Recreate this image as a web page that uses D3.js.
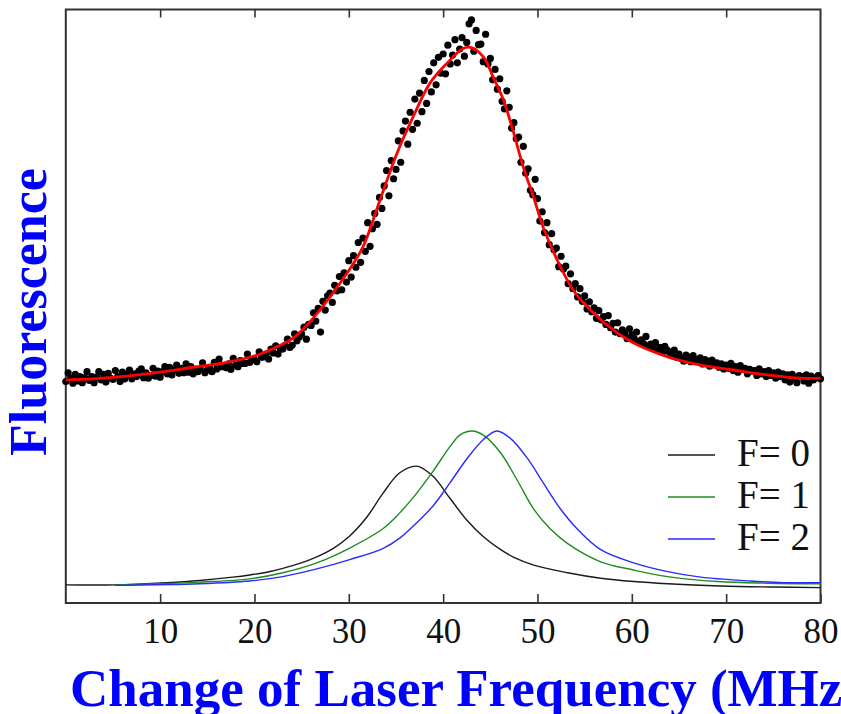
<!DOCTYPE html>
<html>
<head>
<meta charset="utf-8">
<script src="https://cdn.jsdelivr.net/npm/d3@7"></script>
<style>
  body { margin: 0; background: #fff; }
  svg { display: block; }
</style>
</head>
<body>
<svg id="chart" width="841" height="714"></svg>
<script>
// measured fluorescence, scan starts at 0 MHz, one point every 0.25 MHz
const scanStart = 0;
const scanStep = 0.25;
const scanCounts = [
  37.0, 38.6, 37.6, 36.7, 38.3, 37.1, 37.9, 36.8, 37.7, 38.8, 37.2, 37.9,
  36.8, 37.8, 38.8, 37.3, 38.3, 36.9, 38.5, 37.6, 37.4, 39.0, 37.9, 37.0,
  38.7, 37.5, 38.3, 39.1, 37.5, 38.4, 37.9, 38.9, 39.3, 37.7, 38.6, 37.6,
  38.1, 39.4, 38.0, 38.9, 37.8, 38.8, 39.7, 38.4, 39.6, 38.2, 39.1, 40.0,
  38.5, 39.4, 38.6, 40.2, 38.7, 39.7, 38.4, 39.2, 38.8, 39.3, 40.4, 38.6,
  39.1, 39.6, 38.8, 40.5, 39.3, 41.1, 39.7, 39.9, 39.5, 40.2, 39.2, 41.2,
  40.0, 39.7, 40.8, 40.3, 40.3, 42.0, 40.5, 41.0, 41.0, 40.6, 42.4, 41.4,
  41.5, 42.0, 41.1, 42.9, 42.2, 43.5, 42.0, 42.9, 42.9, 43.6, 44.7, 43.2,
  43.6, 45.7, 44.4, 45.1, 45.7, 46.9, 44.7, 47.4, 47.2, 49.5, 48.0, 50.3,
  46.0, 51.6, 50.0, 52.6, 53.1, 51.4, 54.5, 53.5, 56.1, 53.7, 56.8, 55.1,
  59.0, 56.0, 59.9, 57.8, 62.3, 58.7, 63.1, 60.7, 65.9, 61.6, 64.8, 67.6,
  65.6, 70.5, 68.5, 72.6, 75.4, 70.8, 77.2, 73.9, 75.6, 80.8, 76.9, 82.6,
  84.4, 80.2, 86.0, 82.9, 88.4, 84.0, 89.5, 86.1, 91.8, 87.6, 93.4, 89.7,
  95.0, 91.0, 96.0, 93.1, 96.6, 93.0, 98.2, 94.8, 96.4, 99.2, 95.0, 97.5,
  99.6, 96.2, 98.7, 102.1, 102.8, 97.1, 100.9, 98.3, 98.4, 95.2, 100.2, 94.8,
  95.8, 91.9, 93.8, 90.2, 92.1, 88.0, 86.6, 89.9, 86.9, 83.1, 84.1, 81.2,
  81.5, 76.9, 79.8, 74.9, 75.7, 71.8, 71.0, 73.8, 70.3, 66.2, 67.9, 64.1,
  65.9, 61.9, 63.9, 61.0, 61.3, 57.9, 59.8, 57.5, 58.0, 54.8, 56.6, 53.9,
  54.8, 52.4, 53.9, 51.6, 52.6, 50.2, 51.5, 49.7, 50.4, 48.5, 49.9, 48.2,
  48.8, 47.4, 49.0, 46.8, 47.6, 46.0, 47.7, 45.7, 46.4, 45.7, 44.8, 46.6,
  45.5, 44.8, 46.0, 44.2, 44.6, 43.9, 45.2, 43.5, 43.8, 43.2, 44.1, 42.7,
  43.2, 42.3, 43.4, 42.7, 42.3, 41.7, 42.7, 41.4, 42.0, 41.2, 40.7, 41.8,
  41.4, 40.6, 41.7, 40.9, 40.9, 41.3, 40.2, 41.0, 40.7, 39.8, 40.9, 40.2,
  40.4, 39.6, 40.2, 39.3, 40.0, 39.4, 40.3, 39.0, 39.7, 38.7, 39.9, 39.2,
  39.4, 38.4, 39.2, 38.9, 39.0, 38.1, 39.3, 38.4, 38.8, 37.9, 39.0, 38.1,
  38.6, 37.6, 38.7, 37.9, 38.4, 37.3, 38.2, 36.9, 38.3, 37.5, 36.8, 38.1,
  37.9, 37.1, 38.2, 36.7, 38.0, 37.3, 37.7, 38.1, 37.5
];

// fitted line [MHz, fluorescence]
const fitCurve = [
  [0, 37.3], [2.9, 37.5], [6.5, 38.0], [10, 38.7], [13.5, 39.6], [17.1, 40.5],
  [20.6, 42.0], [22.7, 43.6], [24.1, 44.9], [26.2, 48.5], [29.8, 56.7],
  [31.5, 61.5], [33.3, 70.0], [35.1, 78.5], [36.8, 85.1], [38.6, 91.3],
  [40.4, 94.9], [42.1, 97.6], [42.9, 97.8], [44.3, 96.0], [45.3, 92.4],
  [46.4, 88.2], [47.4, 82.7], [48.5, 76.0], [49.6, 70.5], [50.6, 65.1],
  [52.1, 59.1], [53.8, 53.6], [55.9, 49.5], [58.5, 45.8], [60.2, 44.0],
  [63.8, 41.5], [67.3, 40.0], [70.8, 39.1], [74.4, 38.2], [77.9, 37.6], [80, 37.6]
];

// hyperfine components
const f0Curve = [
  [0, 0.0], [5.2, 0.0], [10.7, 0.4], [14.2, 0.8], [17.7, 1.4], [19.5, 1.8],
  [21.3, 2.3], [23.0, 3.0], [24.8, 3.9], [26.6, 5.1], [28.4, 6.7], [30.1, 8.9],
  [31.9, 12.3], [33.6, 16.6], [35.4, 20.4], [37.2, 21.6], [38.9, 19.8],
  [40.7, 15.8], [42.5, 11.8], [44.3, 8.7], [46.1, 6.4], [47.5, 5.0], [49.6, 3.6],
  [53.2, 2.2], [56.7, 1.2], [60.2, 0.6], [63.8, 0.2], [69.4, -0.2], [75.0, -0.4], [80, -0.5]
];
const f1Curve = [
  [5.2, 0.0], [10.0, 0.2], [14.2, 0.5], [19.5, 1.1], [23.0, 2.2], [26.6, 4.0],
  [30.1, 6.7], [33.6, 10.2], [35.4, 13.1], [37.2, 16.7], [38.9, 20.6],
  [40.7, 25.1], [41.8, 27.3], [43.1, 28.0], [44.3, 27.2], [46.1, 24.0],
  [47.9, 18.9], [49.6, 13.8], [51.4, 10.1], [53.2, 7.5], [56.7, 4.2],
  [60.2, 2.7], [63.8, 1.5], [69.1, 0.6], [74.4, 0.3], [80, 0.2]
];
const f2Curve = [
  [5.2, -0.1], [14.2, 0.2], [19.5, 0.7], [23.0, 1.5], [26.6, 2.9], [30.1, 4.6],
  [33.6, 6.6], [35.4, 8.5], [37.2, 11.3], [38.9, 14.3], [40.7, 18.5],
  [42.5, 22.9], [44.3, 26.5], [45.7, 28.0], [47.1, 26.7], [48.9, 23.1],
  [50.6, 18.6], [52.4, 13.9], [54.2, 10.2], [56.7, 6.4], [60.2, 4.0],
  [63.8, 2.4], [67.3, 1.4], [72.6, 0.7], [76.1, 0.4], [80, 0.4]
];

const xTicks = [10, 20, 30, 40, 50, 60, 70, 80];
const topTicks = [10, 20, 30, 40, 50, 60, 70];
const legendLabels = ['F= 0', 'F= 1', 'F= 2'];

const serif = '"Liberation Serif", "Times New Roman", serif';
const componentColors = ['#1a1a1a', '#1e8c1e', '#2a2aff'];

const margin = { top: 9.5, right: 20.5, bottom: 111, left: 65.8 };
const width = 841 - margin.left - margin.right;
const height = 714 - margin.top - margin.bottom;

const svg = d3.select('#chart');
const g = svg.append('g').attr('transform', `translate(${margin.left},${margin.top})`);

const x = d3.scaleLinear().domain([0, 80]).range([0, width]);
const y = d3.scaleLinear().domain([-3.3, 104.7]).range([height, 0]);

// === axes ===
const bottomAxis = g.append('g')
  .attr('transform', `translate(0,${height})`)
  .call(d3.axisBottom(x).tickValues(xTicks).tickSizeInner(-9).tickSizeOuter(0).tickPadding(15));
bottomAxis.select('.domain').remove();
bottomAxis.selectAll('line').attr('stroke', '#333').attr('stroke-width', 1.6);
bottomAxis.selectAll('text')
  .attr('fill', '#111')
  .style('font-family', serif)
  .style('font-size', '35px');

const topAxis = g.append('g')
  .call(d3.axisTop(x).tickValues(topTicks).tickSizeInner(-8).tickSizeOuter(0).tickFormat(''));
topAxis.select('.domain').remove();
topAxis.selectAll('line').attr('stroke', '#333').attr('stroke-width', 1.6);

g.append('rect')
  .attr('width', width)
  .attr('height', height)
  .attr('fill', 'none')
  .attr('stroke', '#333')
  .attr('stroke-width', 2);

// === component curves ===
const line = d3.line()
  .x((d) => x(d[0]))
  .y((d) => y(d[1]))
  .curve(d3.curveCatmullRom.alpha(0.5));

[f0Curve, f1Curve, f2Curve].forEach((c, i) => {
  g.append('path')
    .datum(c)
    .attr('d', line)
    .attr('fill', 'none')
    .attr('stroke', componentColors[i])
    .attr('stroke-width', 1.4);
});

// === measured points + fit ===
const points = scanCounts.map((v, i) => [scanStart + i * scanStep, v]);

g.append('g')
  .selectAll('circle')
  .data(points)
  .join('circle')
  .attr('cx', (d) => x(d[0]))
  .attr('cy', (d) => y(d[1]))
  .attr('r', 3.6)
  .attr('fill', '#000');

g.append('path')
  .datum(fitCurve)
  .attr('d', line)
  .attr('fill', 'none')
  .attr('stroke', '#ff0000')
  .attr('stroke-width', 2.8);

// === legend ===
const legend = g.append('g').attr('transform', `translate(${668 - margin.left},${455 - margin.top})`);
legendLabels.forEach((label, i) => {
  const row = legend.append('g').attr('transform', `translate(0,${i * 42})`);
  row.append('line')
    .attr('x1', 0).attr('x2', 47)
    .attr('stroke', componentColors[i])
    .attr('stroke-width', 1.4);
  row.append('text')
    .attr('x', 69)
    .attr('y', 11)
    .attr('fill', '#111')
    .style('font-family', serif)
    .style('font-size', '39px')
    .text(label);
});

// === axis titles ===
svg.append('text')
  .attr('x', 70)
  .attr('y', 706)
  .attr('fill', '#0000ff')
  .style('font-family', serif)
  .style('font-weight', 'bold')
  .style('font-size', '53px')
  .text('Change of Laser Frequency (MHz)');

svg.append('text')
  .attr('transform', 'translate(46,312) rotate(-90)')
  .attr('text-anchor', 'middle')
  .attr('fill', '#0000ff')
  .style('font-family', serif)
  .style('font-weight', 'bold')
  .style('font-size', '52px')
  .text('Fluorescence');
</script>
</body>
</html>
